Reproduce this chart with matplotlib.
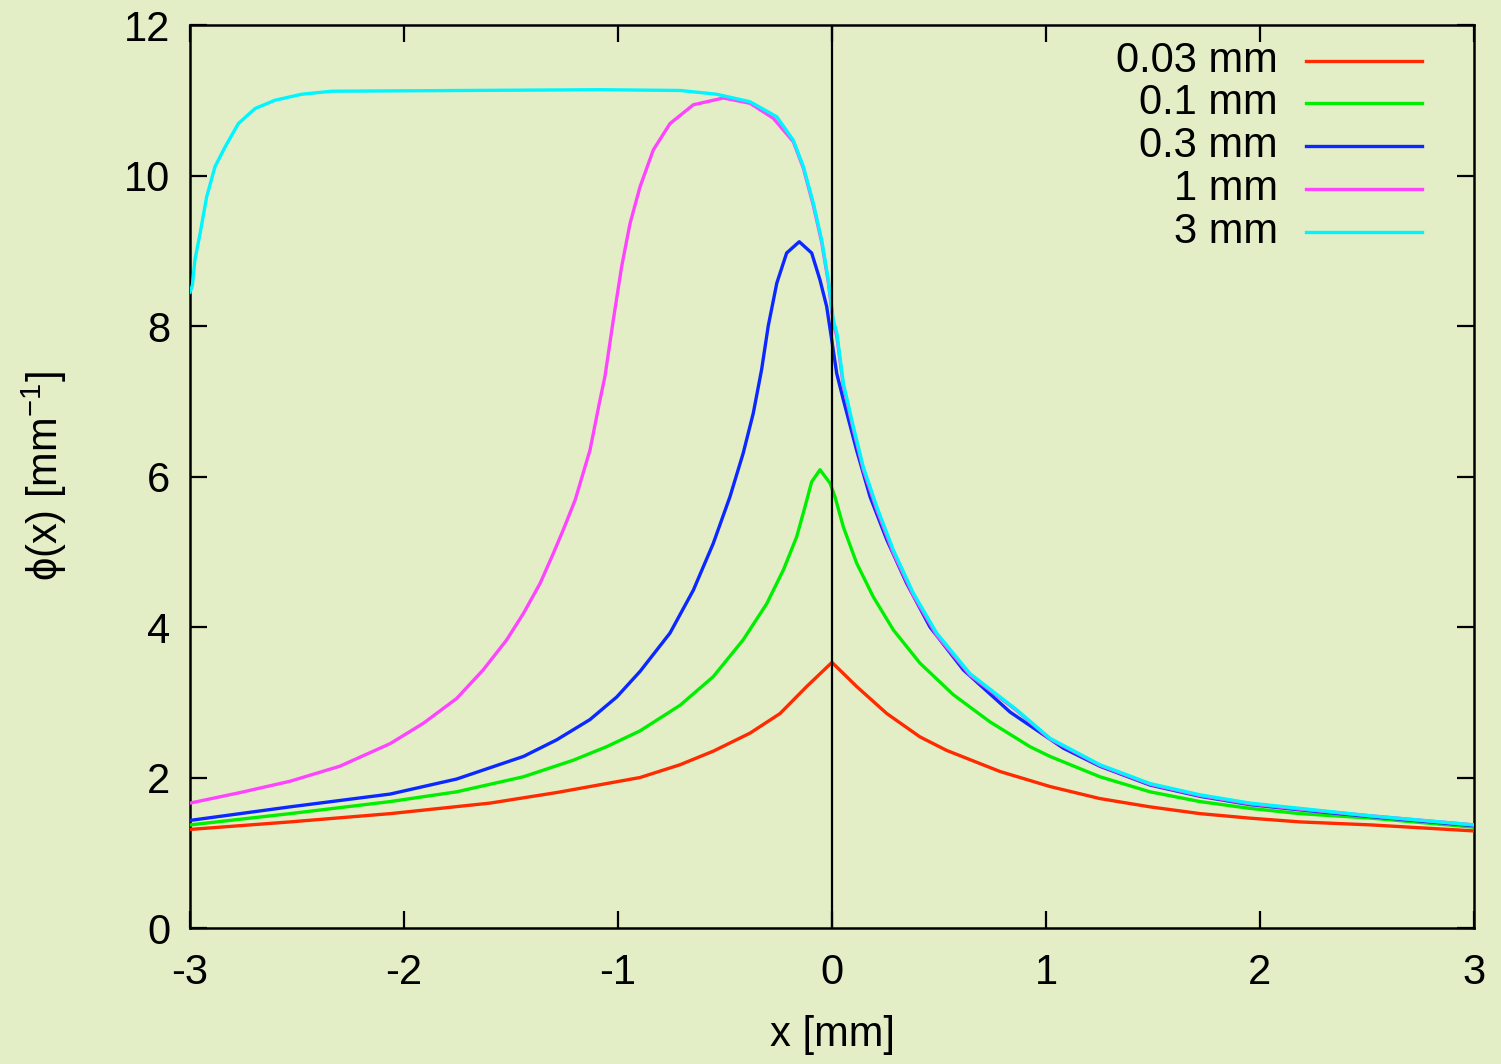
import matplotlib
matplotlib.use('Agg')
import matplotlib.pyplot as plt
from matplotlib.lines import Line2D

plt.rcParams['font.family'] = ['Liberation Sans', 'DejaVu Sans']
plt.rcParams['mathtext.fontset'] = 'custom'
plt.rcParams['mathtext.rm'] = 'Liberation Sans'
plt.rcParams['axes.unicode_minus'] = False

# values
labels = ['0.03 mm', '0.1 mm', '0.3 mm', '1 mm', '3 mm']
colors = ['#ff2a00', '#00ee00', '#0a28ff', '#ff44ff', '#00f5ff']

red_x = [-3.0, -2.533, -2.065, -1.598, -1.287, -0.897, -0.71, -0.555, -0.383, -0.243, -0.118, 0.0,
         0.115, 0.256, 0.411, 0.536, 0.785, 1.019, 1.252, 1.486, 1.72, 1.953, 2.187, 2.52, 3.0]
red_y = [1.31, 1.41, 1.52, 1.66, 1.80, 2.00, 2.17, 2.35, 2.59, 2.85, 3.21, 3.53,
         3.21, 2.85, 2.54, 2.36, 2.08, 1.88, 1.72, 1.61, 1.52, 1.46, 1.41, 1.37, 1.29]

green_x = [-3.0, -2.533, -2.065, -1.754, -1.442, -1.209, -1.053, -0.897, -0.71, -0.555, -0.415,
           -0.305, -0.227, -0.165, -0.126, -0.095, -0.056, -0.009, 0.014, 0.053, 0.115, 0.193,
           0.287, 0.411, 0.567, 0.738, 0.925, 1.019, 1.252, 1.486, 1.72, 1.953, 2.187, 2.52, 3.0]
green_y = [1.37, 1.52, 1.68, 1.81, 2.01, 2.23, 2.41, 2.62, 2.96, 3.34, 3.83,
           4.31, 4.76, 5.20, 5.60, 5.93, 6.09, 5.91, 5.73, 5.33, 4.85, 4.40,
           3.96, 3.52, 3.10, 2.74, 2.41, 2.28, 2.01, 1.81, 1.68, 1.59, 1.52, 1.46, 1.34]

blue_x = [-3.0, -2.533, -2.065, -1.754, -1.442, -1.287, -1.131, -1.006, -0.897, -0.757, -0.648,
          -0.555, -0.477, -0.415, -0.368, -0.329, -0.298, -0.258, -0.212, -0.153, -0.095, -0.056,
          -0.025, -0.001, 0.022, 0.053, 0.115, 0.178, 0.256, 0.349, 0.458, 0.614, 0.832, 1.081,
          1.252, 1.486, 1.72, 1.953, 2.187, 2.52, 3.0]
blue_y = [1.43, 1.61, 1.78, 1.98, 2.28, 2.50, 2.77, 3.07, 3.41, 3.92, 4.49,
          5.11, 5.73, 6.31, 6.84, 7.42, 8.00, 8.57, 8.97, 9.12, 8.97, 8.61,
          8.26, 7.81, 7.37, 7.02, 6.35, 5.73, 5.16, 4.58, 4.00, 3.43, 2.87, 2.39,
          2.15, 1.90, 1.75, 1.64, 1.57, 1.48, 1.36]

magenta_x = [-3.0, -2.766, -2.533, -2.30, -2.065, -1.91, -1.754, -1.63, -1.52, -1.442, -1.364,
             -1.302, -1.256, -1.20, -1.131, -1.084, -1.061, -1.022, -0.983, -0.944, -0.897,
             -0.835, -0.757, -0.648, -0.508, -0.383, -0.274, -0.181, -0.134, -0.087, -0.048,
             -0.017, 0.006, 0.023, 0.053, 0.1, 0.146, 0.209, 0.287, 0.38, 0.489, 0.645, 0.863,
             1.019, 1.252, 1.486, 1.72, 1.953, 2.187, 2.52, 3.0]
magenta_y = [1.66, 1.80, 1.95, 2.15, 2.45, 2.72, 3.05, 3.43, 3.83, 4.18, 4.58,
             4.98, 5.29, 5.69, 6.35, 7.02, 7.33, 8.08, 8.79, 9.36, 9.85,
             10.34, 10.69, 10.94, 11.03, 10.96, 10.76, 10.45, 10.10, 9.60, 9.11,
             8.58, 8.04, 7.85, 7.20, 6.62, 6.09, 5.56, 4.98, 4.42, 3.89, 3.36, 2.89,
             2.51, 2.16, 1.91, 1.76, 1.65, 1.58, 1.49, 1.37]

cyan_x = [-3.0, -2.989, -2.977, -2.953, -2.922, -2.883, -2.836, -2.774, -2.696, -2.603, -2.478,
          -2.338, -1.084, -0.71, -0.539, -0.383, -0.258, -0.181, -0.134, -0.087, -0.048, -0.017,
          0.006, 0.023, 0.053, 0.1, 0.146, 0.209, 0.287, 0.38, 0.489, 0.645, 0.863, 1.019,
          1.252, 1.486, 1.72, 1.953, 2.187, 2.52, 3.0]
cyan_y = [8.45, 8.54, 8.88, 9.23, 9.72, 10.12, 10.38, 10.69, 10.89, 11.00, 11.08,
          11.12, 11.14, 11.13, 11.08, 10.98, 10.78, 10.47, 10.12, 9.63, 9.14, 8.61,
          8.08, 7.90, 7.24, 6.66, 6.13, 5.60, 5.02, 4.45, 3.92, 3.38, 2.90, 2.52,
          2.17, 1.92, 1.77, 1.66, 1.59, 1.49, 1.37]

series_x = [red_x, green_x, blue_x, magenta_x, cyan_x]
series_y = [red_y, green_y, blue_y, magenta_y, cyan_y]

bg = '#e3eec6'
fig = plt.figure(figsize=(15.01, 10.64), dpi=100, facecolor=bg)
ax = fig.add_axes([0.1266, 0.1278, 0.8554, 0.8487], facecolor=bg)

for xs, ys, c in zip(series_x, series_y, colors):
    ax.plot(xs, ys, color=c, lw=2.4, zorder=3, solid_joinstyle='round')

ax.axvline(0, color='black', lw=1.6, zorder=4)

ax.set_xlim(-3, 3)
ax.set_ylim(0, 12)
ax.set_xticks(range(-3, 4))
ax.set_yticks(range(0, 13, 2))
ax.tick_params(direction='in', length=12, width=1.6, top=True, right=True,
               labelsize=30, pad=18)
ax.tick_params(axis='y', pad=14)
for s in ax.spines.values():
    s.set_linewidth(1.8)

ax.set_xlabel('x [mm]', fontsize=30, labelpad=16)
ax.set_ylabel(r'ϕ(x) [mm$^{-1}$]', fontsize=30, labelpad=40)

# legend in gnuplot style: label right-aligned, sample on the right
row_y = [0.960, 0.9136, 0.866, 0.818, 0.771]
for lab, c, yy in zip(labels, colors, row_y):
    ax.text(0.847, yy, lab, transform=ax.transAxes, ha='right', va='center',
            fontsize=30, zorder=5)
    ax.add_line(Line2D([0.869, 0.9595], [yy, yy], transform=ax.transAxes,
                       color=c, lw=2.4, zorder=5))

fig.savefig('out.png', dpi=100, facecolor=bg)
